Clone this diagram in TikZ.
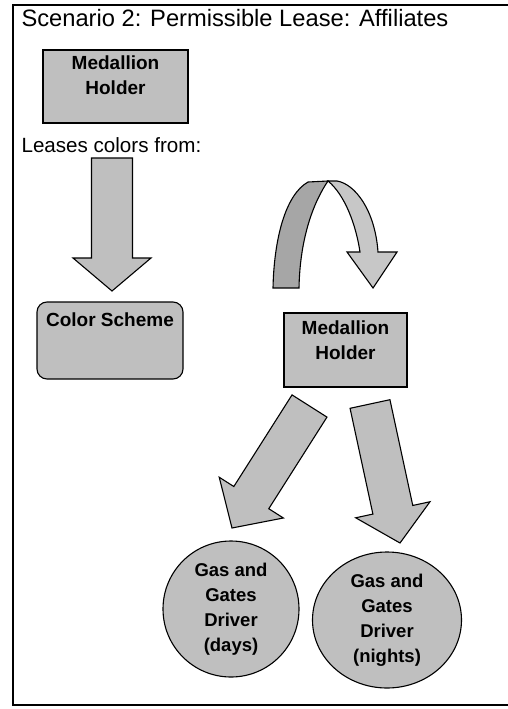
\documentclass[tikz,border=0pt]{standalone}
\usepackage{fontspec}
\setmainfont{Liberation Sans}
\usetikzlibrary{positioning, calc, shapes.geometric}

% #1 tail, #2 tip, #3 half shaft, #4 half head, #5 head length
\newcommand\blockarrow[5]{%
  \coordinate (#1-base) at ($(#2)!#5!(#1)$);
  \filldraw[block arrow]
    ($(#1)!#3!90:(#2)$) -- ($(#1-base)!#3!-90:(#1)$)
    -- ($(#1-base)!#4!-90:(#1)$) -- (#2)
    -- ($(#1-base)!#4!90:(#1)$) -- ($(#1-base)!#3!90:(#1)$)
    -- ($(#1)!#3!-90:(#2)$) -- cycle;
}

\begin{document}
\begin{tikzpicture}[
  x=1pt, y=-1pt,
  line width=1.1pt,
  holder box/.style={
    draw, fill=black!25, inner sep=0pt,
  },
  box text/.style={
    font=\bfseries\fontsize{19}{25}\selectfont, align=center, inner sep=0pt,
  },
  driver/.style={
    draw, fill=black!25, inner sep=0pt,
    font=\bfseries\fontsize{18.5}{25}\selectfont, align=center,
  },
  plain text/.style={
    inner sep=0pt, anchor=base west,
  },
  block arrow/.style={
    fill=black!25, line join=miter,
  }
  ]
  \useasboundingbox (0,0) rectangle (508,709);
  \draw[line width=1.5pt] (508,5) -- (13,5) -- (13,705) -- (508,705);

  \node[plain text, font=\fontsize{23.7}{28}\selectfont] (title) at (21,27)
    {Scenario 2: Permissible Lease: Affiliates};
  \node[plain text, font=\fontsize{20.6}{25}\selectfont] (leases) at (21,152)
    {Leases colors from:};

  % boxes
  \node[holder box, minimum width=145pt, minimum height=73pt] (holder1) at (115.5,86.5) {};
  \node[box text, below=6pt of holder1.north] (holder1 text) {Medallion\\Holder};
  \node[holder box, rounded corners=10pt, minimum width=146pt, minimum height=77pt]
    (scheme) at (110,340.5) {};
  \node[box text, below=11pt of scheme.north] (scheme text) {Color Scheme};
  \node[holder box, minimum width=123pt, minimum height=74pt] (holder2) at (345.5,350) {};
  \node[box text, below=8pt of holder2.north] (holder2 text) {Medallion\\Holder};

  % drivers
  \node[driver, circle, minimum size=136pt] (days) at (231,609)
    {Gas and\\Gates\\Driver\\(days)};
  \node[driver, ellipse, minimum width=149pt, minimum height=136pt] (nights) at (387,620)
    {Gas and\\Gates\\Driver\\(nights)};

  % straight arrows
  \coordinate (lease tail) at (112,158);
  \coordinate (lease tip) at (112,291);
  \coordinate (days tail) at (309.5,406);
  \coordinate (days tip) at (232,528);
  \coordinate (nights tail) at (370,404);
  \coordinate (nights tip) at (400,543);
  \blockarrow{lease tail}{lease tip}{20.5pt}{39pt}{33pt}
  \blockarrow{days tail}{days tip}{20.7pt}{38pt}{36pt}
  \blockarrow{nights tail}{nights tip}{20.4pt}{38pt}{34pt}

  % u-turn arrow
  \filldraw[block arrow, fill=black!22] (328,181) -- (337,181)
    .. controls (355,184) and (375,210) .. (378,252) -- (397,252) -- (373,288)
    -- (347,252) -- (360,252) .. controls (356,225) and (345,195) .. (328,181) -- cycle;
  \filldraw[block arrow, fill=black!35] (273,288)
    .. controls (274,240) and (285,195) .. (308,182) -- (328,181)
    .. controls (315,200) and (300,235) .. (299,288) -- cycle;
\end{tikzpicture}
\end{document}
